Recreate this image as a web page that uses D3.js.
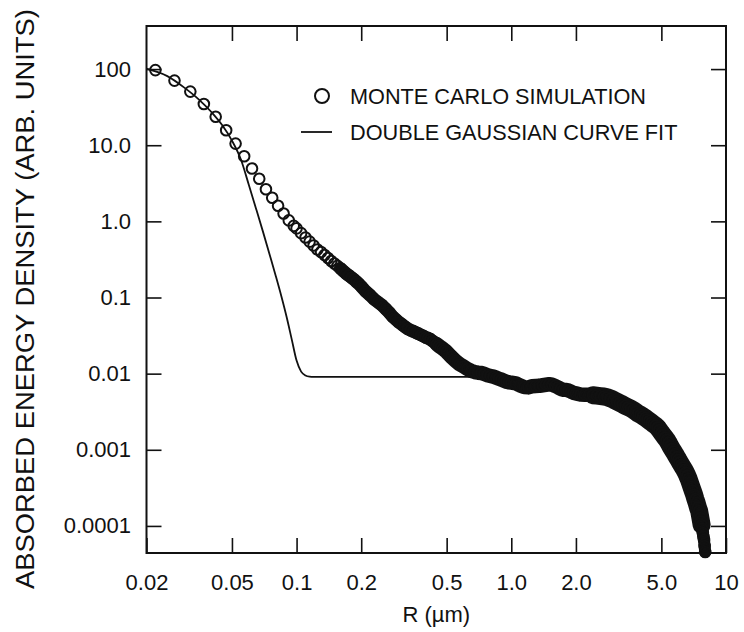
<!DOCTYPE html>
<html>
<head>
<meta charset="utf-8">
<script src="https://cdn.jsdelivr.net/npm/d3@7"></script>
<style>
  body { margin: 0; background: #fff; }
  svg { display: block; font-family: "Liberation Sans", Arial, Helvetica, sans-serif; }
</style>
</head>
<body>
<div id="chart"></div>
<script>
// axis ticks
const xTicks = [0.02, 0.05, 0.1, 0.2, 0.5, 1, 2, 5, 10];
const xTickLabels = ["0.02", "0.05", "0.1", "0.2", "0.5", "1.0", "2.0", "5.0", "10"];
const yTicks = [100, 10, 1, 0.1, 0.01, 0.001, 0.0001];
const yTickLabels = ["100", "10.0", "1.0", "0.1", "0.01", "0.001", "0.0001"];

// Monte Carlo simulation, R in um
const mcR = [
  0.022, 0.027, 0.032, 0.037, 0.042, 0.047, 0.052, 0.057, 0.062, 0.067, 0.072, 0.077, 0.082, 0.087, 0.092, 0.097,
  0.100, 0.105, 0.110, 0.115, 0.120, 0.125, 0.130, 0.135, 0.140, 0.145, 0.150, 0.155, 0.160, 0.165, 0.170,
  0.175, 0.180, 0.185, 0.190, 0.195, 0.200,
  0.21, 0.22, 0.23, 0.24, 0.25, 0.26, 0.27, 0.28, 0.29, 0.30, 0.31, 0.32, 0.33, 0.34, 0.35,
  0.36, 0.37, 0.38, 0.39, 0.40, 0.41, 0.42, 0.43, 0.44, 0.45, 0.46, 0.47, 0.48, 0.49, 0.50,
  0.525, 0.55, 0.575, 0.60, 0.625, 0.65, 0.675, 0.70, 0.725, 0.75, 0.775, 0.80, 0.825, 0.85, 0.875,
  0.90, 0.925, 0.95, 0.975, 1.00,
  1.05, 1.10, 1.15, 1.20, 1.25, 1.30, 1.35, 1.40, 1.45, 1.50, 1.55, 1.60, 1.65, 1.70, 1.75,
  1.80, 1.85, 1.90, 1.95, 2.00,
  2.1, 2.2, 2.3, 2.4, 2.5, 2.6, 2.7, 2.8, 2.9, 3.0, 3.1, 3.2, 3.3, 3.4, 3.5, 3.6, 3.7, 3.8, 3.9, 4.0,
  4.1, 4.2, 4.3, 4.4, 4.5, 4.6, 4.7, 4.8, 4.9, 5.0,
  5.1, 5.2, 5.3, 5.4, 5.5, 5.6, 5.7, 5.8, 5.9, 6.0, 6.1, 6.2, 6.3, 6.4, 6.5, 6.6, 6.7, 6.8, 6.9, 7.0,
  7.1, 7.2, 7.3, 7.4, 7.5, 7.6, 7.65, 7.7, 7.75, 7.8, 7.85, 7.9, 7.95, 8.0
];
const mcE = [
  97, 70.6, 50.6, 34.8, 23.7, 15.7, 10.5, 7.17, 4.94, 3.62, 2.64, 2.04, 1.60, 1.27, 1.03, 0.873,
  0.809, 0.700, 0.614, 0.542, 0.481, 0.428, 0.396, 0.362, 0.331, 0.302, 0.280, 0.260, 0.241, 0.223, 0.207,
  0.195, 0.183, 0.173, 0.161, 0.151, 0.140,
  0.120, 0.107, 0.0944, 0.0862, 0.0792, 0.0708, 0.0635, 0.0562, 0.0514, 0.0472, 0.0441, 0.0411, 0.0387, 0.0371, 0.0359,
  0.0346, 0.0334, 0.0322, 0.0311, 0.0299, 0.0292, 0.0282, 0.0268, 0.0256, 0.0243, 0.0232, 0.0222, 0.0212, 0.0203, 0.0193,
  0.0167, 0.0147, 0.0133, 0.0124, 0.0115, 0.0109, 0.0105, 0.0103, 0.0102, 0.00991, 0.00955, 0.00933, 0.00914, 0.00886, 0.00859,
  0.00834, 0.00809, 0.00785, 0.00769, 0.00762,
  0.00745, 0.00700, 0.00665, 0.00660, 0.00683, 0.00689, 0.00691, 0.00704, 0.00715, 0.00725, 0.00715, 0.00690, 0.00660, 0.00630, 0.00616,
  0.00612, 0.00599, 0.00580, 0.00559, 0.00551,
  0.00532, 0.00529, 0.00529, 0.00521, 0.00514, 0.00507, 0.00501, 0.00489, 0.00472, 0.00451, 0.00430, 0.00411, 0.00394, 0.00377, 0.00362,
  0.00348, 0.00333, 0.00315, 0.00299, 0.00288, 0.00275, 0.00264, 0.00251, 0.00239, 0.00228, 0.00217, 0.00208, 0.00197, 0.00182, 0.00168,
  0.00156, 0.00145, 0.00135, 0.00124, 0.00112, 0.00103, 0.000950, 0.000877, 0.000802, 0.000743, 0.000685, 0.000635, 0.000589, 0.000546,
  0.000503, 0.000458, 0.000415, 0.000368, 0.000326, 0.000290, 0.000259, 0.000226, 0.000201, 0.000175, 0.000157, 0.000127, 0.000115,
  0.000103, 0.0000914, 0.0000809, 0.0000728, 0.0000655, 0.0000546, 0.0000455
];

// double gaussian fit
const fitR = [0.02, 0.025, 0.03, 0.035, 0.04, 0.045, 0.05, 0.055, 0.06, 0.065, 0.07, 0.075, 0.08, 0.085, 0.09, 0.095,
  0.1, 0.105, 0.11, 0.115, 0.12, 0.15, 0.2, 0.3, 0.5, 0.75];
const fitE = [101.6, 80.9, 57.1, 40.1, 27.5, 18.4, 11.5, 6.54, 2.98, 1.417, 0.706, 0.362, 0.192, 0.1031, 0.0546, 0.0280,
  0.01483, 0.01063, 0.00947, 0.00914, 0.00908, 0.00905, 0.00905, 0.00905, 0.00905, 0.00905];

const legendLabels = ["MONTE CARLO SIMULATION", "DOUBLE GAUSSIAN CURVE FIT"];

const width = 744, height = 632;
const plot = { left: 146.5, right: 726, top: 26, bottom: 553 };
const ink = "#111";
const tickLen = 15;

const svg = d3.select("#chart")
  .append("svg")
  .attr("width", width)
  .attr("height", height);

const x = d3.scaleLog().domain([0.02, 10]).range([plot.left, plot.right]);
const y = d3.scaleLog().domain([4.41e-5, 368]).range([plot.bottom, plot.top]);

function styleAxis(g) {
  g.attr("font-family", null).attr("font-size", 22);
  g.select(".domain").remove();
  g.selectAll(".tick line").attr("stroke", ink).attr("stroke-width", 1.6);
  g.selectAll(".tick text").attr("fill", ink);
}

// bottom axis with labels
svg.append("g")
  .attr("transform", `translate(0,${plot.bottom})`)
  .call(d3.axisBottom(x).tickValues(xTicks).tickFormat((d, i) => xTickLabels[i])
    .tickSizeInner(-tickLen).tickSizeOuter(0))
  .call(styleAxis)
  .call(g => g.selectAll(".tick text").attr("y", 37).attr("dy", null));

// top axis, ticks only
svg.append("g")
  .attr("transform", `translate(0,${plot.top})`)
  .call(d3.axisTop(x).tickValues(xTicks.slice(1, -1)).tickFormat("")
    .tickSizeInner(-tickLen).tickSizeOuter(0))
  .call(styleAxis);

// left axis with labels
svg.append("g")
  .attr("transform", `translate(${plot.left},0)`)
  .call(d3.axisLeft(y).tickValues(yTicks).tickFormat((d, i) => yTickLabels[i])
    .tickSizeInner(-tickLen).tickSizeOuter(0).tickPadding(15.5))
  .call(styleAxis);

// right axis, ticks only
svg.append("g")
  .attr("transform", `translate(${plot.right},0)`)
  .call(d3.axisRight(y).tickValues(yTicks).tickFormat("")
    .tickSizeInner(-tickLen).tickSizeOuter(0))
  .call(styleAxis);

// frame
svg.append("rect")
  .attr("x", plot.left).attr("y", plot.top)
  .attr("width", plot.right - plot.left).attr("height", plot.bottom - plot.top)
  .attr("fill", "none").attr("stroke", ink).attr("stroke-width", 2);

// fit curve
const fitData = fitR.map((r, i) => ({ r: r, e: fitE[i] }));
svg.append("path")
  .datum(fitData)
  .attr("fill", "none")
  .attr("stroke", ink)
  .attr("stroke-width", 1.8)
  .attr("d", d3.line().x(d => x(d.r)).y(d => y(d.e)).curve(d3.curveMonotoneX));

// Monte Carlo points
const mcData = mcR.map((r, i) => ({ r: r, e: mcE[i] }));

// where the markers pile up they print as one solid band
const bandParts = [
  { from: 0.16, to: 0.45, w: 13 },
  { from: 0.45, to: 2.4, w: 14.5 },
  { from: 2.4, to: 7.7, w: 18 },
  { from: 7.7, to: 8.0, w: 12 }
];
const bandLine = d3.line().x(d => x(d.r)).y(d => y(d.e));
svg.append("g")
  .selectAll("path")
  .data(bandParts)
  .enter()
  .append("path")
  .attr("fill", "none")
  .attr("stroke", ink)
  .attr("stroke-linejoin", "round")
  .attr("stroke-linecap", "round")
  .attr("stroke-width", p => p.w)
  .attr("d", p => bandLine(mcData.filter(d => d.r >= p.from && d.r <= p.to)));

svg.append("g")
  .selectAll("circle")
  .data(mcData)
  .enter()
  .append("circle")
  .attr("cx", d => x(d.r))
  .attr("cy", d => y(d.e))
  .attr("r", 5.3)
  .attr("fill", "none")
  .attr("stroke", ink)
  .attr("stroke-width", 2);

// legend
const legend = svg.append("g").attr("font-size", 21.7).attr("fill", ink);
legend.append("circle")
  .attr("cx", 322).attr("cy", 96).attr("r", 7)
  .attr("fill", "none").attr("stroke", ink).attr("stroke-width", 2);
legend.append("line")
  .attr("x1", 301).attr("x2", 332).attr("y1", 132).attr("y2", 132)
  .attr("stroke", ink).attr("stroke-width", 1.8);
legend.selectAll("text")
  .data(legendLabels)
  .enter()
  .append("text")
  .attr("x", 350)
  .attr("y", (d, i) => 104 + i * 36)
  .text(d => d);

// axis titles
svg.append("text")
  .attr("x", (plot.left + plot.right) / 2)
  .attr("y", 622)
  .attr("text-anchor", "middle")
  .attr("font-size", 22)
  .attr("fill", ink)
  .text("R (µm)");

svg.append("text")
  .attr("transform", "translate(34,299) rotate(-90)")
  .attr("text-anchor", "middle")
  .attr("font-size", 26)
  .attr("textLength", 580)
  .attr("lengthAdjust", "spacingAndGlyphs")
  .attr("fill", ink)
  .text("ABSORBED ENERGY DENSITY (ARB. UNITS)");
</script>
</body>
</html>
